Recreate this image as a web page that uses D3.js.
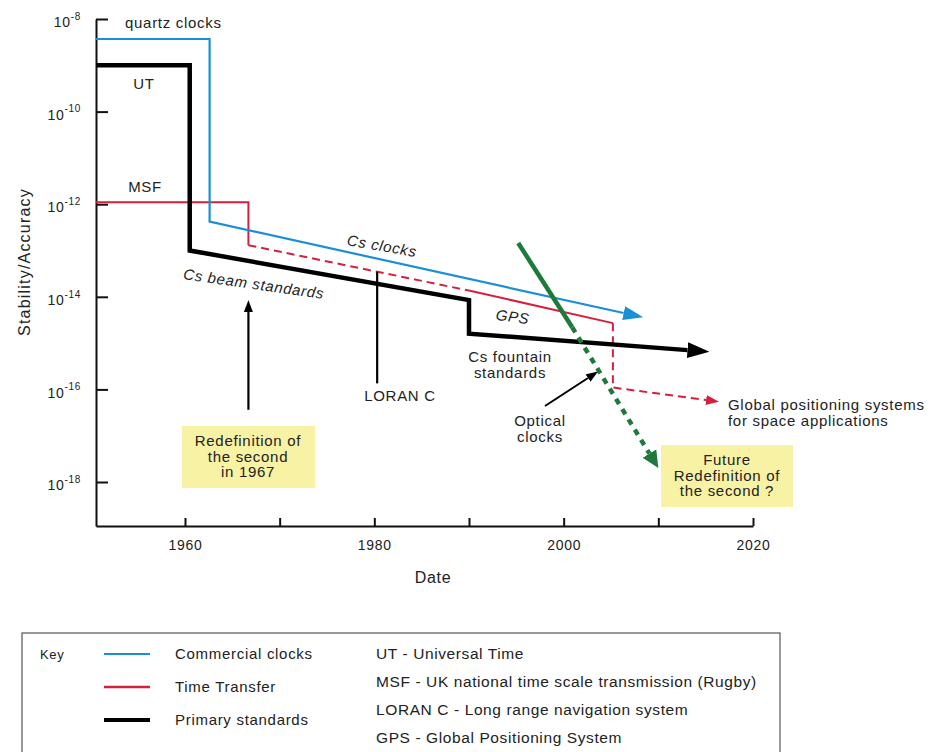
<!DOCTYPE html>
<html>
<head>
<meta charset="utf-8">
<script src="https://cdn.jsdelivr.net/npm/d3@7"></script>
<style>
  body { margin: 0; background: #fff; }
  svg text { font-family: "Liberation Sans", Arial, sans-serif; fill: #222; letter-spacing: 0.7px; }
</style>
</head>
<body>
<svg id="chart" width="932" height="752"></svg>
<script>
// values: years and stability (fractional)
const commercialYears = [1950.6, 1962.6, 1962.6, 2008.4];
const commercialValues = [3.7e-9, 3.7e-9, 4.2e-13, 3.6e-15];

const primaryYears = [1950.6, 1960.5, 1960.5, 1990.0, 1990.0, 2015.4];
const primaryValues = [1e-9, 1e-9, 1.0e-13, 8.5e-15, 1.6e-15, 6.5e-16];

// time transfer: MSF (solid), LORAN C (dashed), GPS (solid), space GNSS (dashed)
const msfYears = [1950.6, 1966.7, 1966.7];
const msfValues = [1.1e-12, 1.1e-12, 1.3e-13];
const loranYears = [1966.7, 1990.1];
const loranValues = [1.3e-13, 1.35e-14];
const gpsYears = [1990.1, 2005.2];
const gpsValues = [1.35e-14, 2.7e-15];
const spaceYears = [2005.2, 2005.2, 2016.4];
const spaceValues = [2.7e-15, 1.1e-16, 5.4e-17];

const opticalYears = [1995.2, 2000.9, 2010.0];
const opticalValues = [1.45e-13, 2.2e-15, 2.0e-18];

const yTicks = [1e-8, 1e-10, 1e-12, 1e-14, 1e-16, 1e-18];
const yTickExp = ["-8", "-10", "-12", "-14", "-16", "-18"];
const xTicks = [1960, 1970, 1980, 1990, 2000, 2010, 2020];
const xTickLabels = ["1960", "", "1980", "", "2000", "", "2020"];

const legendLines = ["Commercial clocks", "Time Transfer", "Primary standards"];
const legendNotes = ["UT - Universal Time",
  "MSF - UK national time scale transmission (Rugby)",
  "LORAN C - Long range navigation system",
  "GPS - Global Positioning System"];

const blue = "#1b8fd6", red = "#d2203f", green = "#1e7a3c", yellow = "#f7f2a4";

const svg = d3.select("#chart");
const x = d3.scaleLinear().domain([1950.6, 2020]).range([96, 753]);
const y = d3.scaleLog().domain([1e-8, Math.pow(10, -18.95)]).range([19, 526]);

// arrowheads
const defs = svg.append("defs");
function marker(id, color, len, wid) {
  defs.append("marker")
    .attr("id", id)
    .attr("markerUnits", "userSpaceOnUse")
    .attr("markerWidth", len).attr("markerHeight", wid)
    .attr("viewBox", `0 ${-wid / 2} ${len} ${wid}`)
    .attr("refX", 0).attr("refY", 0)
    .attr("orient", "auto")
    .append("path")
    .attr("d", `M0,${-wid / 2}L${len},0L0,${wid / 2}Z`)
    .attr("fill", color);
  return len;
}
const blueHead = marker("ahBlue", blue, 20, 14);
const blackHead = marker("ahBlack", "#000", 22, 16);
const redHead = marker("ahRed", red, 13, 10);
const greenHead = marker("ahGreen", green, 17, 16);
const noteHead = marker("ahNote", "#000", 12, 9);

// points in pixels, with the last segment pulled back by the arrow length
function pts(years, values, back) {
  let p = years.map((d, i) => [x(d), y(values[i])]);
  if (back) {
    const a = p[p.length - 2], b = p[p.length - 1];
    const dx = b[0] - a[0], dy = b[1] - a[1], L = Math.hypot(dx, dy);
    p[p.length - 1] = [b[0] - dx / L * back, b[1] - dy / L * back];
  }
  return p;
}
const line = d3.line();

function draw(p, color, w, dash, head) {
  const path = svg.append("path")
    .attr("d", line(p))
    .attr("fill", "none")
    .attr("stroke", color)
    .attr("stroke-width", w)
    .attr("stroke-linejoin", "miter");
  if (dash) path.attr("stroke-dasharray", dash);
  if (head) path.attr("marker-end", `url(#${head})`);
  return path;
}

// axes
const yAxis = d3.axisLeft(y).tickValues(yTicks).tickSizeInner(-12).tickSizeOuter(0).tickPadding(15).tickFormat(() => "10");
const gy = svg.append("g").attr("transform", `translate(${x.range()[0]},0)`).call(yAxis);
gy.select(".domain").attr("stroke-width", 2);
gy.selectAll(".tick line").attr("stroke-width", 2);
gy.selectAll(".tick text")
  .style("font-size", "14px")
  .style("fill", "#222")
  .attr("dy", "0.55em")
  .append("tspan")
  .attr("dy", "-0.75em")
  .style("font-size", "10px")
  .text((d, i) => yTickExp[i]);

const xAxis = d3.axisBottom(x).tickValues(xTicks).tickSizeInner(-8).tickSizeOuter(0).tickPadding(12).tickFormat((d, i) => xTickLabels[i]);
const gx = svg.append("g").attr("transform", `translate(0,${y.range()[1]})`).call(xAxis);
gx.select(".domain").attr("stroke-width", 2);
gx.selectAll(".tick line").attr("stroke-width", 2);
gx.selectAll(".tick text").style("font-size", "14px").style("fill", "#222").attr("dy", "0.85em");
svg.selectAll(".domain, .tick line").attr("stroke", "#111");

svg.append("text").attr("x", 433).attr("y", 583).attr("text-anchor", "middle")
  .style("font-size", "16px").text("Date");
svg.append("text").attr("transform", "translate(30,262) rotate(-90)").attr("text-anchor", "middle")
  .style("font-size", "16px").style("letter-spacing", "1.2px").text("Stability/Accuracy");

// yellow boxes
svg.append("rect").attr("x", 182).attr("y", 426).attr("width", 133).attr("height", 62).attr("fill", yellow);
svg.append("rect").attr("x", 661).attr("y", 445).attr("width", 132).attr("height", 62).attr("fill", yellow);

// series
draw(pts(msfYears, msfValues), red, 2);
draw(pts(loranYears, loranValues), red, 2, "8,5");
draw(pts(gpsYears, gpsValues), red, 2);
draw(pts(spaceYears, spaceValues, redHead), red, 2, "8,5", "ahRed");
draw(pts(commercialYears, commercialValues, blueHead), blue, 2.2, null, "ahBlue");
draw(pts(primaryYears, primaryValues, blackHead), "#000", 4.5, null, "ahBlack");

const op = pts(opticalYears, opticalValues, greenHead);
draw(op.slice(0, 2), green, 4.5);
draw(op.slice(1), green, 4.5, "6,6", "ahGreen");

// pointer lines
draw([[x(1966.7), y(Math.pow(10, -16.44))], [x(1966.7), y(Math.pow(10, -14.07)) + noteHead]], "#000", 2.2, null, "ahNote");
draw([[x(1980.3), y(Math.pow(10, -13.46))], [x(1980.3), y(Math.pow(10, -15.87))]], "#000", 2.2);
draw([[545, 406], [598 - 10, 371 + 7]], "#000", 2, null, "ahNote");

// labels
function label(tx, ty, lines, size, opts = {}) {
  const t = svg.append("text")
    .attr("transform", `translate(${tx},${ty}) rotate(${opts.rotate || 0})`)
    .attr("text-anchor", opts.anchor || "middle")
    .style("font-size", size + "px");
  if (opts.italic) t.style("font-style", "italic");
  lines.forEach((s, i) => t.append("tspan").attr("x", 0).attr("dy", i ? (opts.lh || 16) : 0).text(s));
  return t;
}
label(125, 28, ["quartz clocks"], 15, { anchor: "start" });
label(144, 89, ["UT"], 15);
label(145, 192, ["MSF"], 15);
label(381, 251, ["Cs clocks"], 15, { italic: true, rotate: 10 });
label(253, 289, ["Cs beam standards"], 15, { italic: true, rotate: 8 });
label(512, 322, ["GPS"], 15, { italic: true, rotate: 8 });
label(510, 362, ["Cs fountain", "standards"], 15);
label(400, 401, ["LORAN C"], 15);
label(540, 426, ["Optical", "clocks"], 15);
label(728, 410, ["Global positioning systems", "for space applications"], 15, { anchor: "start" });
label(248, 446, ["Redefinition of", "the second", "in 1967"], 15, { lh: 15.5 });
label(727, 465, ["Future", "Redefinition of", "the second ?"], 15, { lh: 15.5 });

// key
const key = svg.append("g");
key.append("rect").attr("x", 22).attr("y", 633).attr("width", 758).attr("height", 140)
  .attr("fill", "none").attr("stroke", "#555").attr("stroke-width", 1.2);
key.append("text").attr("x", 40).attr("y", 659).style("font-size", "13px").text("Key");
const keyColor = [blue, red, "#000"], keyWidth = [2, 2.5, 4];
legendLines.forEach((s, i) => {
  const ly = 654 + i * 33;
  key.append("line").attr("x1", 104).attr("x2", 150).attr("y1", ly).attr("y2", ly)
    .attr("stroke", keyColor[i]).attr("stroke-width", keyWidth[i]);
  key.append("text").attr("x", 175).attr("y", ly + 5).style("font-size", "15px").text(s);
});
legendNotes.forEach((s, i) => {
  key.append("text").attr("x", 376).attr("y", 659 + i * 28).style("font-size", "15.5px")
    .style("letter-spacing", "0.6px").text(s);
});
</script>
</body>
</html>
